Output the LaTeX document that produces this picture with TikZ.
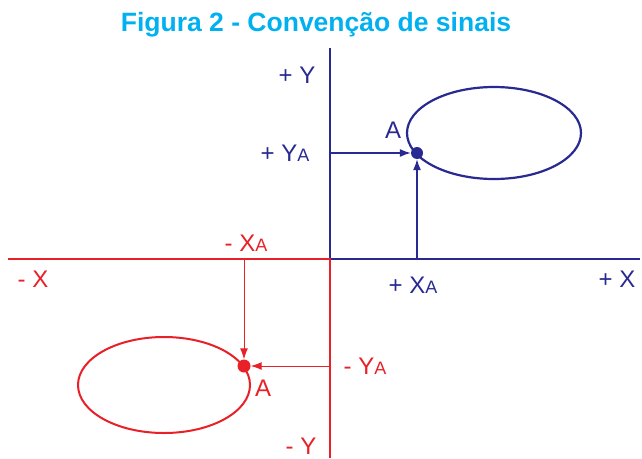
\documentclass[tikz,border=0pt]{standalone}
\usepackage{fontspec}
\setmainfont{Liberation Sans}
\usetikzlibrary{arrows.meta}
\definecolor{axblue}{RGB}{40,42,145}
\definecolor{axred}{RGB}{232,32,40}
\definecolor{titlecyan}{RGB}{0,176,240}
\tikzset{
  lbl/.style={font=\fontsize{24}{26}\selectfont, inner sep=0pt},
  bluel/.style={lbl, text=axblue},
  redl/.style={lbl, text=axred},
  axisb/.style={draw=axblue, line width=2.2pt},
  axisr/.style={draw=axred, line width=2.2pt},
  arrb/.style={draw=axblue, line width=1.3pt, -{Latex[length=11pt,width=8pt]}},
  arrr/.style={draw=axred, line width=1pt, -{Latex[length=11pt,width=8pt]}},
}
\newcommand{\subA}{{\fontsize{18}{19}\selectfont A}}
\begin{document}
\begin{tikzpicture}[x=1pt,y=-1pt]
\useasboundingbox (0,0) rectangle (642,458);
% title
\node[font=\fontsize{26.5}{29}\selectfont\bfseries, text=titlecyan, inner sep=0pt] (title) at (316,25) {Figura 2 - Convenção de sinais};
% coordinates
\coordinate (O) at (330,259);
\coordinate (ytop) at (330,48);
\coordinate (xright) at (640,259);
\coordinate (xleft) at (8,259);
\coordinate (ybot) at (330,458);
% axes
\draw[axisb] (ytop) -- (O) -- (xright);
\draw[axisr] (xleft) -- (O) -- (ybot);
% blue ellipse and point
\draw[draw=axblue, line width=2.2pt] (494,133) ellipse [x radius=87, y radius=46];
\node[circle, fill=axblue, minimum size=12pt, inner sep=0pt] (Ab) at (417,153) {};
\coordinate (ybA) at (330,153);
\coordinate (xbA) at (417,259);
\draw[arrb] (ybA) -- (Ab);
\draw[arrb] (xbA) -- (Ab);
% red ellipse and point
\draw[draw=axred, line width=2pt] (164,385) ellipse [x radius=86, y radius=48];
\node[circle, fill=axred, minimum size=13pt, inner sep=0pt] (Ar) at (244,366) {};
\coordinate (xrA) at (244,259);
\coordinate (yrA) at (330,366);
\draw[arrr] (xrA) -- (Ar);
\draw[arrr] (yrA) -- (Ar);
% labels blue
\node[bluel] (lpy) at (297,75) {+ Y};
\node[bluel] (lA1) at (393,130) {A};
\node[bluel] (lya) at (285,153) {+ Y\subA};
\node[bluel] (lxa) at (413,285) {+ X\subA};
\node[bluel] (lpx) at (617,279) {+ X};
% labels red
\node[redl] (lxna) at (246,243) {- X\subA};
\node[redl] (lnx) at (33,279) {- X};
\node[redl] (lyna) at (365,366) {- Y\subA};
\node[redl] (lA2) at (263,388) {A};
\node[redl] (lny) at (301,446) {- Y};
\end{tikzpicture}
\end{document}
